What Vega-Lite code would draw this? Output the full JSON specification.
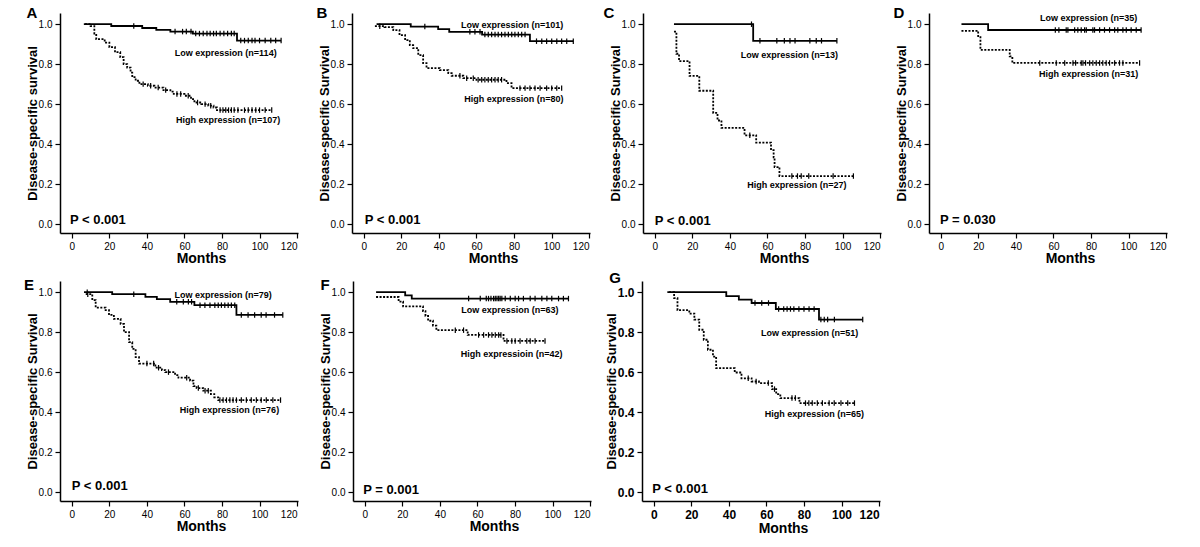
{
"$schema":"https://vega.github.io/schema/vega-lite/v6.json",
"background":"white",
"padding":{"left":23,"top":6,"right":5,"bottom":5},
"config":{"view":{"stroke":null},"font":"Liberation Sans",
"axis":{"domainColor":"black","domainWidth":1.5,"tickColor":"black","tickWidth":1.2,"tickSize":5,"labelFont":"Liberation Sans","labelFontSize":10,"labelColor":"black","labelPadding":3,"titleFont":"Liberation Sans","titleFontWeight":"bold","titleColor":"black","grid":false},
"axisX":{"titleFontSize":14,"titlePadding":0,"values":[0,20,40,60,80,100,120],"titleX":141},
"axisY":{"titleFontSize":13,"titlePadding":-1,"values":[0,0.2,0.4,0.6,0.8,1],"format":".1f"},
"line":{"strokeWidth":1.8},
"text":{"font":"Liberation Sans","fontWeight":"bold","color":"black"}},
"datasets":{"km":[
{"p":"A","g":"L","t":6.4,"s":1},{"p":"A","g":"L","t":21,"s":0.991},{"p":"A","g":"L","t":33,"s":0.991,"c":1},{"p":"A","g":"L","t":37.5,"s":0.981},{"p":"A","g":"L","t":45,"s":0.972},{"p":"A","g":"L","t":52.5,"s":0.963},{"p":"A","g":"L","t":55,"s":0.963,"c":1},{"p":"A","g":"L","t":59,"s":0.963,"c":1},{"p":"A","g":"L","t":61,"s":0.963,"c":1},{"p":"A","g":"L","t":63.5,"s":0.963,"c":1},{"p":"A","g":"L","t":64.5,"s":0.953},{"p":"A","g":"L","t":66,"s":0.953,"c":1},{"p":"A","g":"L","t":68,"s":0.953,"c":1},{"p":"A","g":"L","t":70,"s":0.953,"c":1},{"p":"A","g":"L","t":72,"s":0.953,"c":1},{"p":"A","g":"L","t":73.7,"s":0.953,"c":1},{"p":"A","g":"L","t":75.5,"s":0.953,"c":1},{"p":"A","g":"L","t":77,"s":0.953,"c":1},{"p":"A","g":"L","t":79,"s":0.953,"c":1},{"p":"A","g":"L","t":81,"s":0.953,"c":1},{"p":"A","g":"L","t":83,"s":0.953,"c":1},{"p":"A","g":"L","t":85,"s":0.953,"c":1},{"p":"A","g":"L","t":86.5,"s":0.953,"c":1},{"p":"A","g":"L","t":88,"s":0.918},{"p":"A","g":"L","t":90,"s":0.918,"c":1},{"p":"A","g":"L","t":92,"s":0.918,"c":1},{"p":"A","g":"L","t":94,"s":0.918,"c":1},{"p":"A","g":"L","t":96,"s":0.918,"c":1},{"p":"A","g":"L","t":97.6,"s":0.918,"c":1},{"p":"A","g":"L","t":100,"s":0.918,"c":1},{"p":"A","g":"L","t":103,"s":0.918,"c":1},{"p":"A","g":"L","t":106,"s":0.918,"c":1},{"p":"A","g":"L","t":108.6,"s":0.918,"c":1},{"p":"A","g":"L","t":111.5,"s":0.918,"c":1},
{"p":"A","g":"H","t":7,"s":1},{"p":"A","g":"H","t":10,"s":0.99},{"p":"A","g":"H","t":12,"s":0.953},{"p":"A","g":"H","t":13,"s":0.925},{"p":"A","g":"H","t":17.5,"s":0.908},{"p":"A","g":"H","t":20,"s":0.885},{"p":"A","g":"H","t":23,"s":0.86},{"p":"A","g":"H","t":25.8,"s":0.835},{"p":"A","g":"H","t":27.6,"s":0.8},{"p":"A","g":"H","t":29.5,"s":0.783},{"p":"A","g":"H","t":31.3,"s":0.758},{"p":"A","g":"H","t":32.2,"s":0.735},{"p":"A","g":"H","t":34,"s":0.717},{"p":"A","g":"H","t":36,"s":0.7},{"p":"A","g":"H","t":38,"s":0.7,"c":1},{"p":"A","g":"H","t":40.5,"s":0.692},{"p":"A","g":"H","t":42,"s":0.692,"c":1},{"p":"A","g":"H","t":44,"s":0.683},{"p":"A","g":"H","t":46,"s":0.683,"c":1},{"p":"A","g":"H","t":48.8,"s":0.67},{"p":"A","g":"H","t":50,"s":0.67,"c":1},{"p":"A","g":"H","t":52.5,"s":0.663},{"p":"A","g":"H","t":54.3,"s":0.651},{"p":"A","g":"H","t":56,"s":0.651,"c":1},{"p":"A","g":"H","t":58,"s":0.651,"c":1},{"p":"A","g":"H","t":60,"s":0.642},{"p":"A","g":"H","t":62,"s":0.642,"c":1},{"p":"A","g":"H","t":63.5,"s":0.625},{"p":"A","g":"H","t":65.3,"s":0.608},{"p":"A","g":"H","t":67,"s":0.608,"c":1},{"p":"A","g":"H","t":69,"s":0.6},{"p":"A","g":"H","t":71,"s":0.6,"c":1},{"p":"A","g":"H","t":72.7,"s":0.592},{"p":"A","g":"H","t":74,"s":0.592,"c":1},{"p":"A","g":"H","t":75.5,"s":0.583},{"p":"A","g":"H","t":77.3,"s":0.57},{"p":"A","g":"H","t":79,"s":0.57,"c":1},{"p":"A","g":"H","t":80.5,"s":0.57,"c":1},{"p":"A","g":"H","t":82,"s":0.57,"c":1},{"p":"A","g":"H","t":83.5,"s":0.57,"c":1},{"p":"A","g":"H","t":85,"s":0.57,"c":1},{"p":"A","g":"H","t":86.5,"s":0.57,"c":1},{"p":"A","g":"H","t":88.5,"s":0.57,"c":1},{"p":"A","g":"H","t":92,"s":0.57,"c":1},{"p":"A","g":"H","t":94,"s":0.57,"c":1},{"p":"A","g":"H","t":96,"s":0.57,"c":1},{"p":"A","g":"H","t":98,"s":0.57,"c":1},{"p":"A","g":"H","t":100,"s":0.57,"c":1},{"p":"A","g":"H","t":103,"s":0.57,"c":1},{"p":"A","g":"H","t":106.5,"s":0.57,"c":1},
{"p":"B","g":"L","t":6.8,"s":1},{"p":"B","g":"L","t":25,"s":0.988},{"p":"B","g":"L","t":32.5,"s":0.988,"c":1},{"p":"B","g":"L","t":39.6,"s":0.975},{"p":"B","g":"L","t":45.5,"s":0.962},{"p":"B","g":"L","t":56.5,"s":0.962,"c":1},{"p":"B","g":"L","t":59.2,"s":0.962,"c":1},{"p":"B","g":"L","t":61.9,"s":0.962,"c":1},{"p":"B","g":"L","t":63,"s":0.948},{"p":"B","g":"L","t":64.5,"s":0.948,"c":1},{"p":"B","g":"L","t":66.3,"s":0.948,"c":1},{"p":"B","g":"L","t":68.1,"s":0.948,"c":1},{"p":"B","g":"L","t":69.9,"s":0.948,"c":1},{"p":"B","g":"L","t":71.6,"s":0.948,"c":1},{"p":"B","g":"L","t":73.4,"s":0.948,"c":1},{"p":"B","g":"L","t":75.2,"s":0.948,"c":1},{"p":"B","g":"L","t":77,"s":0.948,"c":1},{"p":"B","g":"L","t":78.8,"s":0.948,"c":1},{"p":"B","g":"L","t":80.5,"s":0.948,"c":1},{"p":"B","g":"L","t":82.3,"s":0.948,"c":1},{"p":"B","g":"L","t":84.1,"s":0.948,"c":1},{"p":"B","g":"L","t":85.9,"s":0.948,"c":1},{"p":"B","g":"L","t":88.5,"s":0.915},{"p":"B","g":"L","t":92,"s":0.915,"c":1},{"p":"B","g":"L","t":94.8,"s":0.915,"c":1},{"p":"B","g":"L","t":97.4,"s":0.915,"c":1},{"p":"B","g":"L","t":100.1,"s":0.915,"c":1},{"p":"B","g":"L","t":102.8,"s":0.915,"c":1},{"p":"B","g":"L","t":105.4,"s":0.915,"c":1},{"p":"B","g":"L","t":108.1,"s":0.915,"c":1},{"p":"B","g":"L","t":111.6,"s":0.915,"c":1},
{"p":"B","g":"H","t":5.9,"s":0.99},{"p":"B","g":"H","t":8.5,"s":0.99,"c":1},{"p":"B","g":"H","t":11,"s":0.985},{"p":"B","g":"H","t":15.7,"s":0.97},{"p":"B","g":"H","t":19,"s":0.945},{"p":"B","g":"H","t":22,"s":0.92},{"p":"B","g":"H","t":24.5,"s":0.895},{"p":"B","g":"H","t":26.3,"s":0.88},{"p":"B","g":"H","t":29,"s":0.845},{"p":"B","g":"H","t":31.6,"s":0.805},{"p":"B","g":"H","t":33.4,"s":0.78},{"p":"B","g":"H","t":40.5,"s":0.77},{"p":"B","g":"H","t":45,"s":0.755},{"p":"B","g":"H","t":46.8,"s":0.742},{"p":"B","g":"H","t":51.2,"s":0.742,"c":1},{"p":"B","g":"H","t":53,"s":0.73},{"p":"B","g":"H","t":54.8,"s":0.73,"c":1},{"p":"B","g":"H","t":58.3,"s":0.73,"c":1},{"p":"B","g":"H","t":60,"s":0.722},{"p":"B","g":"H","t":60.9,"s":0.722,"c":1},{"p":"B","g":"H","t":62.8,"s":0.722,"c":1},{"p":"B","g":"H","t":64.5,"s":0.722,"c":1},{"p":"B","g":"H","t":66.3,"s":0.722,"c":1},{"p":"B","g":"H","t":68.1,"s":0.722,"c":1},{"p":"B","g":"H","t":69.9,"s":0.722,"c":1},{"p":"B","g":"H","t":71.6,"s":0.722,"c":1},{"p":"B","g":"H","t":73.4,"s":0.722,"c":1},{"p":"B","g":"H","t":76,"s":0.705},{"p":"B","g":"H","t":78.7,"s":0.68},{"p":"B","g":"H","t":83.2,"s":0.68,"c":1},{"p":"B","g":"H","t":85.9,"s":0.68,"c":1},{"p":"B","g":"H","t":88.5,"s":0.68,"c":1},{"p":"B","g":"H","t":91.2,"s":0.68,"c":1},{"p":"B","g":"H","t":93.9,"s":0.68,"c":1},{"p":"B","g":"H","t":97.4,"s":0.68,"c":1},{"p":"B","g":"H","t":100.1,"s":0.68,"c":1},{"p":"B","g":"H","t":102.8,"s":0.68,"c":1},{"p":"B","g":"H","t":105.4,"s":0.68,"c":1},
{"p":"C","g":"L","t":10.2,"s":1},{"p":"C","g":"L","t":51.5,"s":1,"c":1},{"p":"C","g":"L","t":52.4,"s":0.917},{"p":"C","g":"L","t":56,"s":0.917,"c":1},{"p":"C","g":"L","t":65,"s":0.917,"c":1},{"p":"C","g":"L","t":69,"s":0.917,"c":1},{"p":"C","g":"L","t":72,"s":0.917,"c":1},{"p":"C","g":"L","t":74.7,"s":0.917,"c":1},{"p":"C","g":"L","t":82.6,"s":0.917,"c":1},{"p":"C","g":"L","t":86,"s":0.917,"c":1},{"p":"C","g":"L","t":88.8,"s":0.917,"c":1},{"p":"C","g":"L","t":97,"s":0.917,"c":1},
{"p":"C","g":"H","t":10.2,"s":0.963},{"p":"C","g":"H","t":11.5,"s":0.852},{"p":"C","g":"H","t":12.9,"s":0.815},{"p":"C","g":"H","t":18.5,"s":0.741},{"p":"C","g":"H","t":23.7,"s":0.667},{"p":"C","g":"H","t":31.1,"s":0.556},{"p":"C","g":"H","t":33.4,"s":0.518},{"p":"C","g":"H","t":35.5,"s":0.481},{"p":"C","g":"H","t":47.8,"s":0.444},{"p":"C","g":"H","t":50.6,"s":0.444,"c":1},{"p":"C","g":"H","t":54,"s":0.407},{"p":"C","g":"H","t":61.9,"s":0.37},{"p":"C","g":"H","t":63.3,"s":0.333},{"p":"C","g":"H","t":63.8,"s":0.285},{"p":"C","g":"H","t":66.4,"s":0.24},{"p":"C","g":"H","t":73,"s":0.24,"c":1},{"p":"C","g":"H","t":76,"s":0.24,"c":1},{"p":"C","g":"H","t":78,"s":0.24,"c":1},{"p":"C","g":"H","t":82,"s":0.24,"c":1},{"p":"C","g":"H","t":95,"s":0.24,"c":1},{"p":"C","g":"H","t":105.8,"s":0.24,"c":1},
{"p":"D","g":"L","t":11,"s":1},{"p":"D","g":"L","t":25.2,"s":0.971},{"p":"D","g":"L","t":61,"s":0.971,"c":1},{"p":"D","g":"L","t":62.9,"s":0.971,"c":1},{"p":"D","g":"L","t":66.8,"s":0.971,"c":1},{"p":"D","g":"L","t":67.7,"s":0.971,"c":1},{"p":"D","g":"L","t":71.3,"s":0.971,"c":1},{"p":"D","g":"L","t":73,"s":0.971,"c":1},{"p":"D","g":"L","t":74.8,"s":0.971,"c":1},{"p":"D","g":"L","t":76.6,"s":0.971,"c":1},{"p":"D","g":"L","t":77.5,"s":0.971,"c":1},{"p":"D","g":"L","t":81,"s":0.971,"c":1},{"p":"D","g":"L","t":81.9,"s":0.971,"c":1},{"p":"D","g":"L","t":84.6,"s":0.971,"c":1},{"p":"D","g":"L","t":87.2,"s":0.971,"c":1},{"p":"D","g":"L","t":89.9,"s":0.971,"c":1},{"p":"D","g":"L","t":92.6,"s":0.971,"c":1},{"p":"D","g":"L","t":94.3,"s":0.971,"c":1},{"p":"D","g":"L","t":97,"s":0.971,"c":1},{"p":"D","g":"L","t":98.8,"s":0.971,"c":1},{"p":"D","g":"L","t":101.4,"s":0.971,"c":1},{"p":"D","g":"L","t":104.1,"s":0.971,"c":1},{"p":"D","g":"L","t":106.7,"s":0.971,"c":1},
{"p":"D","g":"H","t":11,"s":0.967},{"p":"D","g":"H","t":19.9,"s":0.935},{"p":"D","g":"H","t":21.1,"s":0.871},{"p":"D","g":"H","t":36.7,"s":0.839},{"p":"D","g":"H","t":38.1,"s":0.806},{"p":"D","g":"H","t":52.7,"s":0.806,"c":1},{"p":"D","g":"H","t":61.5,"s":0.806,"c":1},{"p":"D","g":"H","t":66,"s":0.806,"c":1},{"p":"D","g":"H","t":70.4,"s":0.806,"c":1},{"p":"D","g":"H","t":71.8,"s":0.806,"c":1},{"p":"D","g":"H","t":74.8,"s":0.806,"c":1},{"p":"D","g":"H","t":75.7,"s":0.806,"c":1},{"p":"D","g":"H","t":77.1,"s":0.806,"c":1},{"p":"D","g":"H","t":79.3,"s":0.806,"c":1},{"p":"D","g":"H","t":81,"s":0.806,"c":1},{"p":"D","g":"H","t":82.8,"s":0.806,"c":1},{"p":"D","g":"H","t":84.6,"s":0.806,"c":1},{"p":"D","g":"H","t":86.3,"s":0.806,"c":1},{"p":"D","g":"H","t":88.1,"s":0.806,"c":1},{"p":"D","g":"H","t":89.9,"s":0.806,"c":1},{"p":"D","g":"H","t":92.6,"s":0.806,"c":1},{"p":"D","g":"H","t":95.2,"s":0.806,"c":1},{"p":"D","g":"H","t":97,"s":0.806,"c":1},{"p":"D","g":"H","t":105.9,"s":0.806,"c":1},
{"p":"E","g":"L","t":6.5,"s":1},{"p":"E","g":"L","t":8.2,"s":1,"c":1},{"p":"E","g":"L","t":21.5,"s":0.99},{"p":"E","g":"L","t":33,"s":0.99,"c":1},{"p":"E","g":"L","t":39.2,"s":0.977},{"p":"E","g":"L","t":45.3,"s":0.965},{"p":"E","g":"L","t":52.4,"s":0.952},{"p":"E","g":"L","t":55.9,"s":0.952,"c":1},{"p":"E","g":"L","t":59.4,"s":0.952,"c":1},{"p":"E","g":"L","t":62.1,"s":0.952,"c":1},{"p":"E","g":"L","t":63.8,"s":0.952,"c":1},{"p":"E","g":"L","t":65.3,"s":0.935},{"p":"E","g":"L","t":68.3,"s":0.935,"c":1},{"p":"E","g":"L","t":70.9,"s":0.935,"c":1},{"p":"E","g":"L","t":73.6,"s":0.935,"c":1},{"p":"E","g":"L","t":76.2,"s":0.935,"c":1},{"p":"E","g":"L","t":78,"s":0.935,"c":1},{"p":"E","g":"L","t":79.7,"s":0.935,"c":1},{"p":"E","g":"L","t":81.5,"s":0.935,"c":1},{"p":"E","g":"L","t":83.3,"s":0.935,"c":1},{"p":"E","g":"L","t":85,"s":0.935,"c":1},{"p":"E","g":"L","t":86.8,"s":0.935,"c":1},{"p":"E","g":"L","t":87.7,"s":0.886},{"p":"E","g":"L","t":90.3,"s":0.886,"c":1},{"p":"E","g":"L","t":93.9,"s":0.886,"c":1},{"p":"E","g":"L","t":97.4,"s":0.886,"c":1},{"p":"E","g":"L","t":100.9,"s":0.886,"c":1},{"p":"E","g":"L","t":103.5,"s":0.886,"c":1},{"p":"E","g":"L","t":108,"s":0.886,"c":1},{"p":"E","g":"L","t":112.4,"s":0.886,"c":1},
{"p":"E","g":"H","t":7.4,"s":0.99},{"p":"E","g":"H","t":8.5,"s":0.99,"c":1},{"p":"E","g":"H","t":10.9,"s":0.96},{"p":"E","g":"H","t":12.7,"s":0.923},{"p":"E","g":"H","t":18,"s":0.91},{"p":"E","g":"H","t":19.8,"s":0.886},{"p":"E","g":"H","t":22.4,"s":0.866},{"p":"E","g":"H","t":26,"s":0.841},{"p":"E","g":"H","t":27.8,"s":0.8},{"p":"E","g":"H","t":30.5,"s":0.75},{"p":"E","g":"H","t":32.2,"s":0.716},{"p":"E","g":"H","t":34,"s":0.675},{"p":"E","g":"H","t":35.8,"s":0.643},{"p":"E","g":"H","t":40,"s":0.643,"c":1},{"p":"E","g":"H","t":43.6,"s":0.643,"c":1},{"p":"E","g":"H","t":44.5,"s":0.622},{"p":"E","g":"H","t":46.2,"s":0.622,"c":1},{"p":"E","g":"H","t":48,"s":0.61},{"p":"E","g":"H","t":49.8,"s":0.6},{"p":"E","g":"H","t":51.5,"s":0.6,"c":1},{"p":"E","g":"H","t":55,"s":0.585},{"p":"E","g":"H","t":56.8,"s":0.572},{"p":"E","g":"H","t":61.2,"s":0.572,"c":1},{"p":"E","g":"H","t":63,"s":0.557},{"p":"E","g":"H","t":64.8,"s":0.53},{"p":"E","g":"H","t":66.5,"s":0.52},{"p":"E","g":"H","t":67.4,"s":0.52,"c":1},{"p":"E","g":"H","t":70,"s":0.507},{"p":"E","g":"H","t":71,"s":0.507,"c":1},{"p":"E","g":"H","t":72.7,"s":0.507,"c":1},{"p":"E","g":"H","t":74.1,"s":0.49},{"p":"E","g":"H","t":75.9,"s":0.474},{"p":"E","g":"H","t":78,"s":0.46},{"p":"E","g":"H","t":78.9,"s":0.46,"c":1},{"p":"E","g":"H","t":80.6,"s":0.46,"c":1},{"p":"E","g":"H","t":82.4,"s":0.46,"c":1},{"p":"E","g":"H","t":84.2,"s":0.46,"c":1},{"p":"E","g":"H","t":85.9,"s":0.46,"c":1},{"p":"E","g":"H","t":87.7,"s":0.46,"c":1},{"p":"E","g":"H","t":90.3,"s":0.46,"c":1},{"p":"E","g":"H","t":93,"s":0.46,"c":1},{"p":"E","g":"H","t":95.6,"s":0.46,"c":1},{"p":"E","g":"H","t":98.3,"s":0.46,"c":1},{"p":"E","g":"H","t":100.9,"s":0.46,"c":1},{"p":"E","g":"H","t":103.6,"s":0.46,"c":1},{"p":"E","g":"H","t":107.1,"s":0.46,"c":1},{"p":"E","g":"H","t":111.2,"s":0.46,"c":1},
{"p":"F","g":"L","t":6,"s":1},{"p":"F","g":"L","t":21.5,"s":0.984},{"p":"F","g":"L","t":25,"s":0.968},{"p":"F","g":"L","t":55.3,"s":0.968,"c":1},{"p":"F","g":"L","t":61.5,"s":0.968,"c":1},{"p":"F","g":"L","t":64.7,"s":0.968,"c":1},{"p":"F","g":"L","t":65.9,"s":0.968,"c":1},{"p":"F","g":"L","t":67.2,"s":0.968,"c":1},{"p":"F","g":"L","t":68.6,"s":0.968,"c":1},{"p":"F","g":"L","t":69.5,"s":0.968,"c":1},{"p":"F","g":"L","t":70.4,"s":0.968,"c":1},{"p":"F","g":"L","t":71.3,"s":0.968,"c":1},{"p":"F","g":"L","t":72.1,"s":0.968,"c":1},{"p":"F","g":"L","t":73,"s":0.968,"c":1},{"p":"F","g":"L","t":74.8,"s":0.968,"c":1},{"p":"F","g":"L","t":77.5,"s":0.968,"c":1},{"p":"F","g":"L","t":80.1,"s":0.968,"c":1},{"p":"F","g":"L","t":81.9,"s":0.968,"c":1},{"p":"F","g":"L","t":84.5,"s":0.968,"c":1},{"p":"F","g":"L","t":88.1,"s":0.968,"c":1},{"p":"F","g":"L","t":90.7,"s":0.968,"c":1},{"p":"F","g":"L","t":94.3,"s":0.968,"c":1},{"p":"F","g":"L","t":97,"s":0.968,"c":1},{"p":"F","g":"L","t":99.6,"s":0.968,"c":1},{"p":"F","g":"L","t":103.2,"s":0.968,"c":1},{"p":"F","g":"L","t":105.8,"s":0.968,"c":1},{"p":"F","g":"L","t":108.5,"s":0.968,"c":1},
{"p":"F","g":"H","t":6,"s":0.976},{"p":"F","g":"H","t":18,"s":0.953},{"p":"F","g":"H","t":20.4,"s":0.929},{"p":"F","g":"H","t":31,"s":0.905},{"p":"F","g":"H","t":32.3,"s":0.881},{"p":"F","g":"H","t":33.7,"s":0.857},{"p":"F","g":"H","t":36.3,"s":0.833},{"p":"F","g":"H","t":38.1,"s":0.81},{"p":"F","g":"H","t":48.2,"s":0.81,"c":1},{"p":"F","g":"H","t":52.6,"s":0.81,"c":1},{"p":"F","g":"H","t":54.8,"s":0.786},{"p":"F","g":"H","t":60.6,"s":0.786,"c":1},{"p":"F","g":"H","t":63.3,"s":0.786,"c":1},{"p":"F","g":"H","t":65.9,"s":0.786,"c":1},{"p":"F","g":"H","t":67.7,"s":0.786,"c":1},{"p":"F","g":"H","t":69.5,"s":0.786,"c":1},{"p":"F","g":"H","t":71.3,"s":0.786,"c":1},{"p":"F","g":"H","t":72.5,"s":0.786,"c":1},{"p":"F","g":"H","t":73.9,"s":0.756},{"p":"F","g":"H","t":75.7,"s":0.756,"c":1},{"p":"F","g":"H","t":78.3,"s":0.756,"c":1},{"p":"F","g":"H","t":80.1,"s":0.756,"c":1},{"p":"F","g":"H","t":82.7,"s":0.756,"c":1},{"p":"F","g":"H","t":86.3,"s":0.756,"c":1},{"p":"F","g":"H","t":88.1,"s":0.756,"c":1},{"p":"F","g":"H","t":90.7,"s":0.756,"c":1},{"p":"F","g":"H","t":96,"s":0.756,"c":1},
{"p":"G","g":"L","t":7.2,"s":1},{"p":"G","g":"L","t":38.6,"s":0.98},{"p":"G","g":"L","t":45.3,"s":0.963},{"p":"G","g":"L","t":52.1,"s":0.946},{"p":"G","g":"L","t":53.9,"s":0.946,"c":1},{"p":"G","g":"L","t":57.5,"s":0.946,"c":1},{"p":"G","g":"L","t":61.1,"s":0.946,"c":1},{"p":"G","g":"L","t":65,"s":0.916},{"p":"G","g":"L","t":66.5,"s":0.916,"c":1},{"p":"G","g":"L","t":69.2,"s":0.916,"c":1},{"p":"G","g":"L","t":71,"s":0.916,"c":1},{"p":"G","g":"L","t":72.8,"s":0.916,"c":1},{"p":"G","g":"L","t":74.6,"s":0.916,"c":1},{"p":"G","g":"L","t":77.3,"s":0.916,"c":1},{"p":"G","g":"L","t":80,"s":0.916,"c":1},{"p":"G","g":"L","t":82.7,"s":0.916,"c":1},{"p":"G","g":"L","t":85.4,"s":0.916,"c":1},{"p":"G","g":"L","t":88,"s":0.863},{"p":"G","g":"L","t":89,"s":0.863,"c":1},{"p":"G","g":"L","t":90.8,"s":0.863,"c":1},{"p":"G","g":"L","t":92.6,"s":0.863,"c":1},{"p":"G","g":"L","t":96.2,"s":0.863,"c":1},{"p":"G","g":"L","t":111.3,"s":0.863,"c":1},
{"p":"G","g":"H","t":8.1,"s":1},{"p":"G","g":"H","t":10.8,"s":0.97},{"p":"G","g":"H","t":12.6,"s":0.91},{"p":"G","g":"H","t":18.9,"s":0.893},{"p":"G","g":"H","t":21.6,"s":0.863},{"p":"G","g":"H","t":24.2,"s":0.812},{"p":"G","g":"H","t":26.6,"s":0.762},{"p":"G","g":"H","t":28.8,"s":0.712},{"p":"G","g":"H","t":31.5,"s":0.678},{"p":"G","g":"H","t":33.2,"s":0.62},{"p":"G","g":"H","t":43.1,"s":0.598},{"p":"G","g":"H","t":46.7,"s":0.569},{"p":"G","g":"H","t":50.3,"s":0.569,"c":1},{"p":"G","g":"H","t":52.1,"s":0.553},{"p":"G","g":"H","t":54.5,"s":0.553,"c":1},{"p":"G","g":"H","t":56,"s":0.545},{"p":"G","g":"H","t":61,"s":0.545,"c":1},{"p":"G","g":"H","t":63,"s":0.515},{"p":"G","g":"H","t":64.3,"s":0.515,"c":1},{"p":"G","g":"H","t":65.2,"s":0.49},{"p":"G","g":"H","t":67.4,"s":0.47},{"p":"G","g":"H","t":73.6,"s":0.47,"c":1},{"p":"G","g":"H","t":75.4,"s":0.47,"c":1},{"p":"G","g":"H","t":77.6,"s":0.445},{"p":"G","g":"H","t":80.8,"s":0.445,"c":1},{"p":"G","g":"H","t":82.6,"s":0.445,"c":1},{"p":"G","g":"H","t":84.4,"s":0.445,"c":1},{"p":"G","g":"H","t":87.1,"s":0.445,"c":1},{"p":"G","g":"H","t":89.8,"s":0.445,"c":1},{"p":"G","g":"H","t":93.4,"s":0.445,"c":1},{"p":"G","g":"H","t":96.1,"s":0.445,"c":1},{"p":"G","g":"H","t":99.7,"s":0.445,"c":1},{"p":"G","g":"H","t":103.3,"s":0.445,"c":1},{"p":"G","g":"H","t":106.9,"s":0.445,"c":1}
]},
"vconcat":[
{"hconcat":[
{"width":238,"height":220,"layer":[
{"data":{"name":"km"},"transform":[{"filter":"datum.p=='A'"}],"mark":{"type":"line","interpolate":"step-after","color":"black"},"encoding":{"x":{"field":"t","type":"quantitative","scale":{"domain":[-6.3,120.5],"nice":false,"zero":false},"axis":{"title":"Months"}},"y":{"field":"s","type":"quantitative","scale":{"domain":[-0.045,1.056],"nice":false,"zero":false},"axis":{"title":"Disease-specific survival"}},"strokeDash":{"field":"g","type":"nominal","scale":{"domain":["L","H"],"range":[[1,0],[2,1.5]]},"legend":null}}},
{"data":{"name":"km"},"transform":[{"filter":"datum.p=='A' && datum.c==1"}],"mark":{"type":"point","shape":"M0,-1L0,1","size":30,"filled":false,"strokeWidth":1.2,"color":"black","opacity":1},"encoding":{"x":{"field":"t","type":"quantitative"},"y":{"field":"s","type":"quantitative"}}},
{"data":{"values":[{}]},"mark":{"type":"text","text":"A","fontSize":15,"dx":-28},"encoding":{"x":{"datum":-6.3},"y":{"datum":1.056}}},
{"data":{"values":[{}]},"mark":{"type":"text","text":"Low expression (n=114)","fontSize":9},"encoding":{"x":{"datum":82},"y":{"datum":0.855}}},
{"data":{"values":[{}]},"mark":{"type":"text","text":"High expression (n=107)","fontSize":9},"encoding":{"x":{"datum":83.3},"y":{"datum":0.52}}},
{"data":{"values":[{}]},"mark":{"type":"text","text":"P < 0.001","fontSize":13,"align":"left"},"encoding":{"x":{"datum":-1},"y":{"datum":0.02}}}
]},
{"hconcat":[
{"width":238,"height":220,"layer":[
{"data":{"name":"km"},"transform":[{"filter":"datum.p=='B'"}],"mark":{"type":"line","interpolate":"step-after","color":"black"},"encoding":{"x":{"field":"t","type":"quantitative","scale":{"domain":[-6.3,120.5],"nice":false,"zero":false},"axis":{"title":"Months"}},"y":{"field":"s","type":"quantitative","scale":{"domain":[-0.045,1.056],"nice":false,"zero":false},"axis":{"title":"Disease-specific Survival"}},"strokeDash":{"field":"g","type":"nominal","scale":{"domain":["L","H"],"range":[[1,0],[2,1.5]]},"legend":null}}},
{"data":{"name":"km"},"transform":[{"filter":"datum.p=='B' && datum.c==1"}],"mark":{"type":"point","shape":"M0,-1L0,1","size":30,"filled":false,"strokeWidth":1.2,"color":"black","opacity":1},"encoding":{"x":{"field":"t","type":"quantitative"},"y":{"field":"s","type":"quantitative"}}},
{"data":{"values":[{}]},"mark":{"type":"text","text":"B","fontSize":15,"dx":-30},"encoding":{"x":{"datum":-6.3},"y":{"datum":1.056}}},
{"data":{"values":[{}]},"mark":{"type":"text","text":"Low expression (n=101)","fontSize":9},"encoding":{"x":{"datum":79},"y":{"datum":0.995}}},
{"data":{"values":[{}]},"mark":{"type":"text","text":"High expression (n=80)","fontSize":9},"encoding":{"x":{"datum":80},"y":{"datum":0.625}}},
{"data":{"values":[{}]},"mark":{"type":"text","text":"P < 0.001","fontSize":13,"align":"left"},"encoding":{"x":{"datum":0.5},"y":{"datum":0.022}}}
]},
{"hconcat":[
{"width":238,"height":220,"layer":[
{"data":{"name":"km"},"transform":[{"filter":"datum.p=='C'"}],"mark":{"type":"line","interpolate":"step-after","color":"black"},"encoding":{"x":{"field":"t","type":"quantitative","scale":{"domain":[-6.3,120.5],"nice":false,"zero":false},"axis":{"title":"Months"}},"y":{"field":"s","type":"quantitative","scale":{"domain":[-0.045,1.056],"nice":false,"zero":false},"axis":{"title":"Disease-specific Survival"}},"strokeDash":{"field":"g","type":"nominal","scale":{"domain":["L","H"],"range":[[1,0],[2,1.5]]},"legend":null}}},
{"data":{"name":"km"},"transform":[{"filter":"datum.p=='C' && datum.c==1"}],"mark":{"type":"point","shape":"M0,-1L0,1","size":30,"filled":false,"strokeWidth":1.2,"color":"black","opacity":1},"encoding":{"x":{"field":"t","type":"quantitative"},"y":{"field":"s","type":"quantitative"}}},
{"data":{"values":[{}]},"mark":{"type":"text","text":"C","fontSize":15,"dx":-34},"encoding":{"x":{"datum":-6.3},"y":{"datum":1.056}}},
{"data":{"values":[{}]},"mark":{"type":"text","text":"Low expression (n=13)","fontSize":9},"encoding":{"x":{"datum":71.7},"y":{"datum":0.844}}},
{"data":{"values":[{}]},"mark":{"type":"text","text":"High expression (n=27)","fontSize":9},"encoding":{"x":{"datum":75.7},"y":{"datum":0.196}}},
{"data":{"values":[{}]},"mark":{"type":"text","text":"P < 0.001","fontSize":13,"align":"left"},"encoding":{"x":{"datum":0},"y":{"datum":0.017}}}
]},
{"width":238,"height":220,"layer":[
{"data":{"name":"km"},"transform":[{"filter":"datum.p=='D'"}],"mark":{"type":"line","interpolate":"step-after","color":"black"},"encoding":{"x":{"field":"t","type":"quantitative","scale":{"domain":[-6.3,120.5],"nice":false,"zero":false},"axis":{"title":"Months"}},"y":{"field":"s","type":"quantitative","scale":{"domain":[-0.045,1.056],"nice":false,"zero":false},"axis":{"title":"Disease-specific Survival"}},"strokeDash":{"field":"g","type":"nominal","scale":{"domain":["L","H"],"range":[[1,0],[2,1.5]]},"legend":null}}},
{"data":{"name":"km"},"transform":[{"filter":"datum.p=='D' && datum.c==1"}],"mark":{"type":"point","shape":"M0,-1L0,1","size":30,"filled":false,"strokeWidth":1.2,"color":"black","opacity":1},"encoding":{"x":{"field":"t","type":"quantitative"},"y":{"field":"s","type":"quantitative"}}},
{"data":{"values":[{}]},"mark":{"type":"text","text":"D","fontSize":15,"dx":-30},"encoding":{"x":{"datum":-6.3},"y":{"datum":1.056}}},
{"data":{"values":[{}]},"mark":{"type":"text","text":"Low expression (n=35)","fontSize":9},"encoding":{"x":{"datum":78.7},"y":{"datum":1.03}}},
{"data":{"values":[{}]},"mark":{"type":"text","text":"High expression (n=31)","fontSize":9},"encoding":{"x":{"datum":78.7},"y":{"datum":0.753}}},
{"data":{"values":[{}]},"mark":{"type":"text","text":"P = 0.030","fontSize":13,"align":"left"},"encoding":{"x":{"datum":-0.5},"y":{"datum":0.02}}}
]}
],"spacing":12}
],"spacing":13}
],"spacing":18},
{"hconcat":[
{"width":238,"height":220,"layer":[
{"data":{"name":"km"},"transform":[{"filter":"datum.p=='E'"}],"mark":{"type":"line","interpolate":"step-after","color":"black"},"encoding":{"x":{"field":"t","type":"quantitative","scale":{"domain":[-6.3,120.5],"nice":false,"zero":false},"axis":{"title":"Months"}},"y":{"field":"s","type":"quantitative","scale":{"domain":[-0.045,1.056],"nice":false,"zero":false},"axis":{"title":"Disease-specific Survival"}},"strokeDash":{"field":"g","type":"nominal","scale":{"domain":["L","H"],"range":[[1,0],[2,1.5]]},"legend":null}}},
{"data":{"name":"km"},"transform":[{"filter":"datum.p=='E' && datum.c==1"}],"mark":{"type":"point","shape":"M0,-1L0,1","size":30,"filled":false,"strokeWidth":1.2,"color":"black","opacity":1},"encoding":{"x":{"field":"t","type":"quantitative"},"y":{"field":"s","type":"quantitative"}}},
{"data":{"values":[{}]},"mark":{"type":"text","text":"E","fontSize":15,"dx":-31,"dy":4},"encoding":{"x":{"datum":-6.3},"y":{"datum":1.056}}},
{"data":{"values":[{}]},"mark":{"type":"text","text":"Low expression (n=79)","fontSize":9},"encoding":{"x":{"datum":80.6},"y":{"datum":0.988}}},
{"data":{"values":[{}]},"mark":{"type":"text","text":"High expression (n=76)","fontSize":9},"encoding":{"x":{"datum":84},"y":{"datum":0.41}}},
{"data":{"values":[{}]},"mark":{"type":"text","text":"P < 0.001","fontSize":13,"align":"left"},"encoding":{"x":{"datum":0},"y":{"datum":0.03}}}
]},
{"hconcat":[
{"width":238,"height":220,"layer":[
{"data":{"name":"km"},"transform":[{"filter":"datum.p=='F'"}],"mark":{"type":"line","interpolate":"step-after","color":"black"},"encoding":{"x":{"field":"t","type":"quantitative","scale":{"domain":[-6.3,120.5],"nice":false,"zero":false},"axis":{"title":"Months"}},"y":{"field":"s","type":"quantitative","scale":{"domain":[-0.045,1.056],"nice":false,"zero":false},"axis":{"title":"Disease-specific Survival"}},"strokeDash":{"field":"g","type":"nominal","scale":{"domain":["L","H"],"range":[[1,0],[2,1.5]]},"legend":null}}},
{"data":{"name":"km"},"transform":[{"filter":"datum.p=='F' && datum.c==1"}],"mark":{"type":"point","shape":"M0,-1L0,1","size":30,"filled":false,"strokeWidth":1.2,"color":"black","opacity":1},"encoding":{"x":{"field":"t","type":"quantitative"},"y":{"field":"s","type":"quantitative"}}},
{"data":{"values":[{}]},"mark":{"type":"text","text":"F","fontSize":15,"dx":-28,"dy":4},"encoding":{"x":{"datum":-6.3},"y":{"datum":1.056}}},
{"data":{"values":[{}]},"mark":{"type":"text","text":"Low expression (n=63)","fontSize":9},"encoding":{"x":{"datum":77.3},"y":{"datum":0.913}}},
{"data":{"values":[{}]},"mark":{"type":"text","text":"High expressioin (n=42)","fontSize":9},"encoding":{"x":{"datum":78.2},"y":{"datum":0.692}}},
{"data":{"values":[{}]},"mark":{"type":"text","text":"P = 0.001","fontSize":13,"align":"left"},"encoding":{"x":{"datum":-0.9},"y":{"datum":0.008}}}
]},
{"width":238,"height":220,"layer":[
{"data":{"name":"km"},"transform":[{"filter":"datum.p=='G'"}],"mark":{"type":"line","interpolate":"step-after","color":"black"},"encoding":{"x":{"field":"t","type":"quantitative","scale":{"domain":[-6.3,120.5],"nice":false,"zero":false},"axis":{"title":"Months","labelFontWeight":"bold","labelFontSize":12,"titlePadding":1}},"y":{"field":"s","type":"quantitative","scale":{"domain":[-0.045,1.056],"nice":false,"zero":false},"axis":{"title":"Disease-specific Survival","labelFontWeight":"bold","labelFontSize":12}},"strokeDash":{"field":"g","type":"nominal","scale":{"domain":["L","H"],"range":[[1,0],[2,1.5]]},"legend":null}}},
{"data":{"name":"km"},"transform":[{"filter":"datum.p=='G' && datum.c==1"}],"mark":{"type":"point","shape":"M0,-1L0,1","size":30,"filled":false,"strokeWidth":1.2,"color":"black","opacity":1},"encoding":{"x":{"field":"t","type":"quantitative"},"y":{"field":"s","type":"quantitative"}}},
{"data":{"values":[{}]},"mark":{"type":"text","text":"G","fontSize":15,"dx":-27,"dy":-3},"encoding":{"x":{"datum":-6.3},"y":{"datum":1.056}}},
{"data":{"values":[{}]},"mark":{"type":"text","text":"Low expression (n=51)","fontSize":9},"encoding":{"x":{"datum":83},"y":{"datum":0.796}}},
{"data":{"values":[{}]},"mark":{"type":"text","text":"High expression (n=65)","fontSize":9},"encoding":{"x":{"datum":85.5},"y":{"datum":0.39}}},
{"data":{"values":[{}]},"mark":{"type":"text","text":"P < 0.001","fontSize":13,"align":"left"},"encoding":{"x":{"datum":-0.9},"y":{"datum":0.017}}}
]}
],"spacing":14}
],"spacing":21}
],
"spacing":6
}
